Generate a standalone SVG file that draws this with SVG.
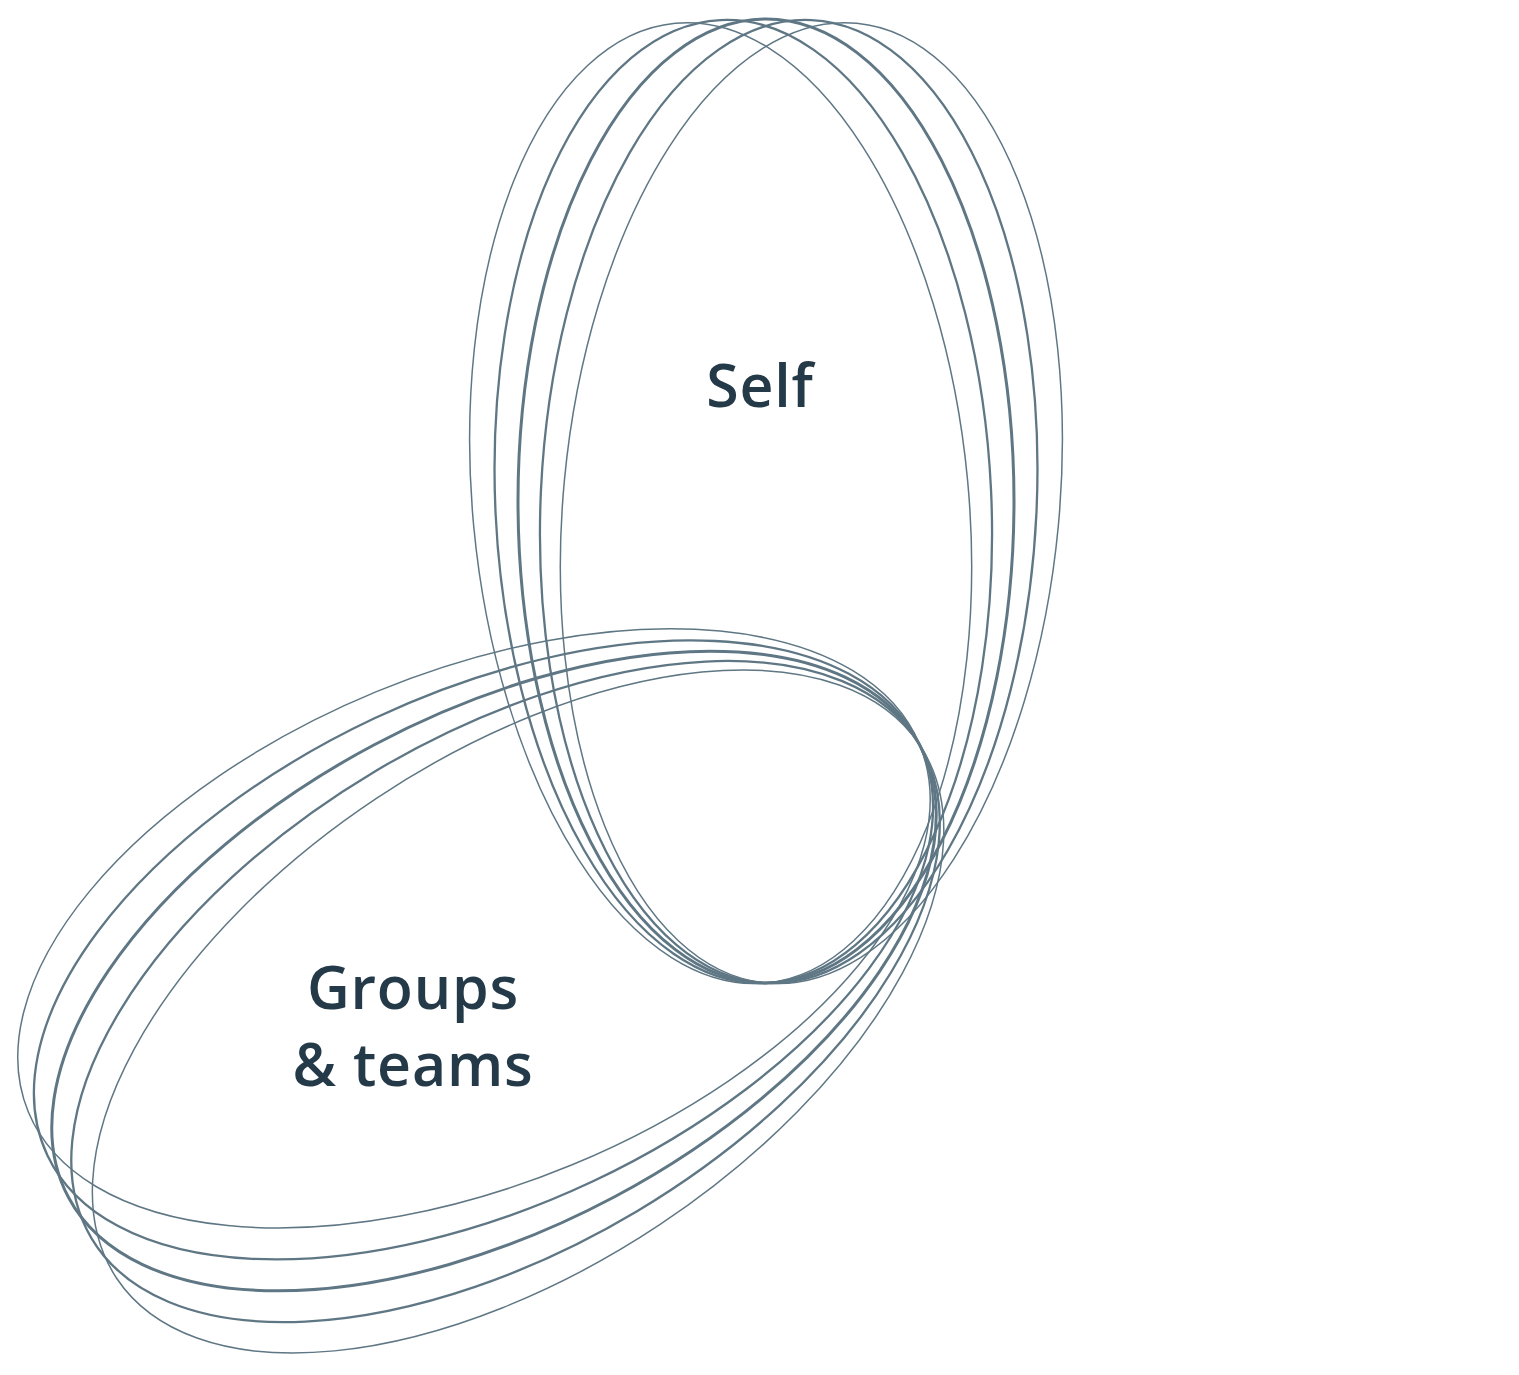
<svg xmlns="http://www.w3.org/2000/svg" width="1519" height="1375" viewBox="0 0 1519 1375">
  <style>
    .loop { fill: none; stroke: #5f7784; }
    .w1 { stroke-width: 1.5; }
    .w2 { stroke-width: 2.3; }
    .w3 { stroke-width: 3; }
    .label { font-family: "Open Sans", "Liberation Sans", sans-serif; font-weight: 600; font-size: 59px; letter-spacing: 0.8px; fill: #253a48; text-anchor: middle; }
  </style>
  <rect width="1519" height="1375" fill="#ffffff"/>
  <g id="self">
    <ellipse class="loop w1" cx="766" cy="501" rx="248" ry="482" transform="rotate(-5.4 766 983)"/>
    <ellipse class="loop w2" cx="766" cy="501" rx="248" ry="482" transform="rotate(-2.7 766 983)"/>
    <ellipse class="loop w3" cx="766" cy="501" rx="248" ry="482"/>
    <ellipse class="loop w2" cx="766" cy="501" rx="248" ry="482" transform="rotate(2.7 766 983)"/>
    <ellipse class="loop w1" cx="766" cy="501" rx="248" ry="482" transform="rotate(5.4 766 983)"/>
    <text class="label" x="760" y="407">Self</text>
  </g>
  <g id="groups">
    <ellipse class="loop w1" cx="494" cy="971" rx="482" ry="256" transform="rotate(5.6 920 745) rotate(-28 494 971)"/>
    <ellipse class="loop w2" cx="494" cy="971" rx="482" ry="256" transform="rotate(2.8 920 745) rotate(-28 494 971)"/>
    <ellipse class="loop w3" cx="494" cy="971" rx="482" ry="256" transform="rotate(-28 494 971)"/>
    <ellipse class="loop w2" cx="494" cy="971" rx="482" ry="256" transform="rotate(-2.8 920 745) rotate(-28 494 971)"/>
    <ellipse class="loop w1" cx="494" cy="971" rx="482" ry="256" transform="rotate(-5.6 920 745) rotate(-28 494 971)"/>
    <text class="label" x="413" y="1009">Groups</text>
    <text class="label" x="413" y="1086">&amp; teams</text>
  </g>
</svg>
